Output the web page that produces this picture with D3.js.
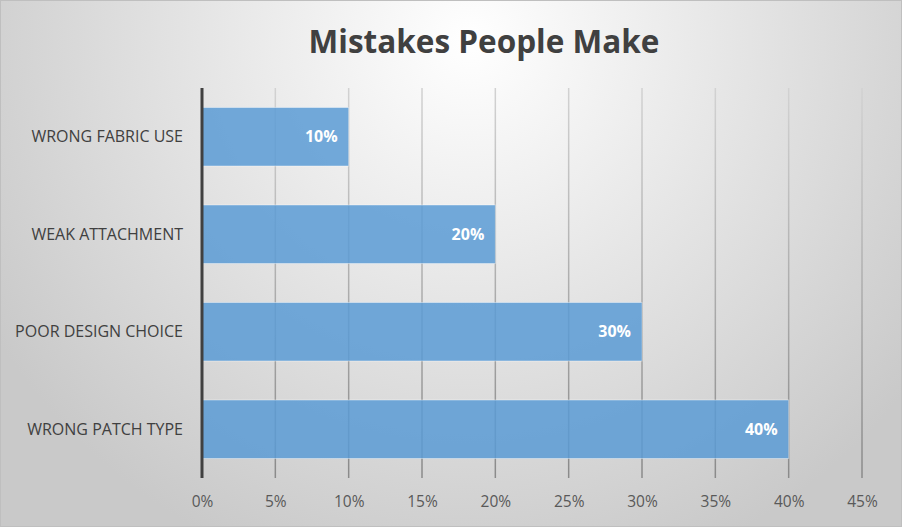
<!DOCTYPE html>
<html><head><meta charset="utf-8">
<script src="https://cdn.jsdelivr.net/npm/d3@7"></script>
<style>html,body{margin:0;padding:0;background:#fff;}svg{display:block;}</style>
</head><body>
<script>
const categories = ["WRONG FABRIC USE", "WEAK ATTACHMENT", "POOR DESIGN CHOICE", "WRONG PATCH TYPE"];
const values = [0.10, 0.20, 0.30, 0.40];
const tickValues = [0, 0.05, 0.10, 0.15, 0.20, 0.25, 0.30, 0.35, 0.40, 0.45];
const title = "Mistakes People Make";

const W = 902, H = 527;
const svg = d3.select("body").append("svg").attr("width", W).attr("height", H);
const defs = svg.append("defs");
const rg = defs.append("radialGradient").attr("id", "bg")
  .attr("gradientUnits", "userSpaceOnUse")
  .attr("cx", 470).attr("cy", 40).attr("r", 560);
rg.append("stop").attr("offset", "0%").attr("stop-color", "#ffffff");
rg.append("stop").attr("offset", "100%").attr("stop-color", "#c9c9c9");
svg.append("rect").attr("x", 0.5).attr("y", 0.5).attr("width", W - 1).attr("height", H - 1)
  .attr("fill", "url(#bg)").attr("stroke", "#bfbfbf").attr("stroke-width", 1);

const font = "'Open Sans', 'Liberation Sans', sans-serif";
const m = {left: 202, right: 862, top: 88, bottom: 478};
const x = d3.scaleLinear().domain([0, 0.45]).range([m.left, m.right]);
const y = d3.scaleBand().domain(categories).range([m.top, m.bottom]).paddingInner(0.4).paddingOuter(0.2);

const lg = defs.append("linearGradient").attr("id", "grid")
  .attr("gradientUnits", "userSpaceOnUse")
  .attr("x1", 0).attr("x2", 0).attr("y1", m.top).attr("y2", m.bottom);
lg.append("stop").attr("offset", "0%").attr("stop-color", "#d2d2d2");
lg.append("stop").attr("offset", "100%").attr("stop-color", "#8a8a8a");

// gridlines
svg.append("g").selectAll("rect").data(tickValues.slice(1)).join("rect")
  .attr("x", d => x(d) - 0.75).attr("width", 1.5)
  .attr("y", m.top).attr("height", m.bottom - m.top)
  .attr("fill", "url(#grid)");

// bars
svg.append("g").selectAll("rect").data(values).join("rect")
  .attr("x", x(0)).attr("y", (d, i) => y(categories[i]))
  .attr("width", d => x(d) - x(0)).attr("height", y.bandwidth())
  .attr("fill", "#5b9bd5").attr("fill-opacity", 0.85)
  .attr("stroke", "#ffffff").attr("stroke-opacity", 0.4).attr("stroke-width", 1);

// value labels
svg.append("g").selectAll("text").data(values).join("text")
  .attr("x", d => x(d) - 11).attr("y", (d, i) => y(categories[i]) + y.bandwidth() / 2)
  .attr("dy", "0.35em").attr("text-anchor", "end")
  .attr("font-family", font).attr("font-weight", "bold").attr("font-size", 16)
  .attr("fill", "#ffffff").text(d => d3.format(".0%")(d));

// y axis line
svg.append("line").attr("x1", x(0)).attr("x2", x(0)).attr("y1", m.top).attr("y2", m.bottom)
  .attr("stroke", "#404040").attr("stroke-width", 3);

// category labels
svg.append("g").selectAll("text").data(categories).join("text")
  .attr("x", 183).attr("y", d => y(d) + y.bandwidth() / 2)
  .attr("dy", "0.35em").attr("text-anchor", "end")
  .attr("font-family", font).attr("font-size", 16).attr("fill", "#404040")
  .text(d => d);

// x tick labels
const xAxis = d3.axisBottom(x).tickValues(tickValues).tickFormat(d3.format(".0%")).tickSize(0).tickPadding(0);
const gx = svg.append("g").attr("transform", `translate(0, 496)`).call(xAxis);
gx.select(".domain").remove();
gx.selectAll("text").attr("font-family", font).attr("font-size", 15.5).attr("fill", "#595959");

// title
svg.append("text").attr("x", 484).attr("y", 53).attr("text-anchor", "middle")
  .attr("font-family", font).attr("font-weight", "bold").attr("font-size", 31.5)
  .attr("fill", "#404040").text(title);
</script>
</body></html>
